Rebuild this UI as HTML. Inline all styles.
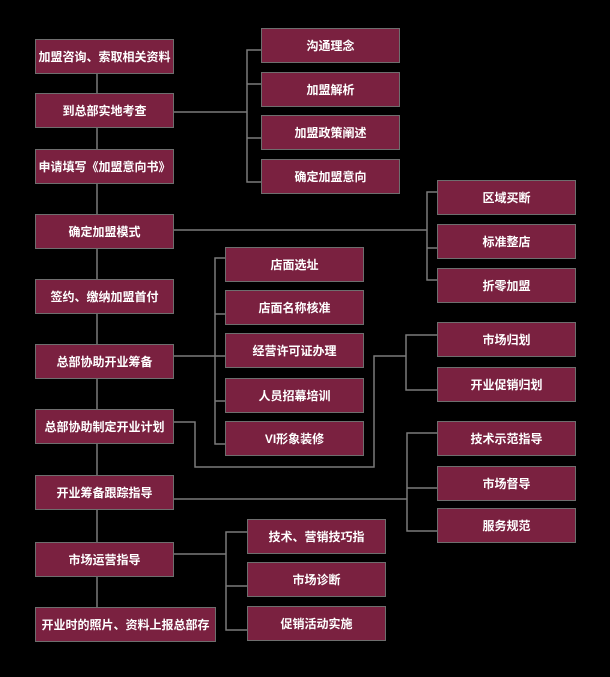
<!DOCTYPE html>
<html><head><meta charset="utf-8"><style>
html,body{margin:0;padding:0;background:#000;}
#c{position:relative;width:610px;height:677px;background:#000;overflow:hidden;}
.b{position:absolute;box-sizing:border-box;background:#7a2140;border:1px solid #6e6e6e;color:#fff;font:bold 12px "Liberation Sans","Noto Sans CJK SC",sans-serif;display:flex;align-items:center;justify-content:center;white-space:nowrap;}
svg{position:absolute;left:0;top:0;}
</style></head><body><div id="c">
<svg width="610" height="677"><g stroke="#7a7a7a" stroke-width="1.5" fill="none">
<path d="M97 73V607"/>
<path d="M173 112H247M261 50H247V182H261M247 84H261M247 138H261"/>
<path d="M173 230H427M437 192H427V280H437M427 248H437"/>
<path d="M173 356H225M225 258H215V444H225M215 314H225M215 401H225"/>
<path d="M173 422H195V467H374V356H406M437 335H406V390H437"/>
<path d="M173 499H407M437 433H407V531H437M407 488H437"/>
<path d="M173 554H226M247 532H226V630H247M226 586H247"/>
</g></svg>
<div class="b" style="left:35px;top:39px;width:139px;height:35px">加盟咨询、索取相关资料</div>
<div class="b" style="left:35px;top:93px;width:139px;height:35px">到总部实地考查</div>
<div class="b" style="left:35px;top:149px;width:139px;height:35px">申请填写《加盟意向书》</div>
<div class="b" style="left:35px;top:214px;width:139px;height:35px">确定加盟模式</div>
<div class="b" style="left:35px;top:279px;width:139px;height:35px">签约、缴纳加盟首付</div>
<div class="b" style="left:35px;top:344px;width:139px;height:35px">总部协助开业筹备</div>
<div class="b" style="left:35px;top:409px;width:139px;height:35px">总部协助制定开业计划</div>
<div class="b" style="left:35px;top:475px;width:139px;height:35px">开业筹备跟踪指导</div>
<div class="b" style="left:35px;top:542px;width:139px;height:35px">市场运营指导</div>
<div class="b" style="left:35px;top:607px;width:181px;height:35px">开业时的照片、资料上报总部存</div>

<div class="b" style="left:261px;top:28px;width:139px;height:35px">沟通理念</div>
<div class="b" style="left:261px;top:72px;width:139px;height:35px">加盟解析</div>
<div class="b" style="left:261px;top:115px;width:139px;height:35px">加盟政策阐述</div>
<div class="b" style="left:261px;top:159px;width:139px;height:35px">确定加盟意向</div>

<div class="b" style="left:437px;top:180px;width:139px;height:35px">区域买断</div>
<div class="b" style="left:437px;top:224px;width:139px;height:35px">标准整店</div>
<div class="b" style="left:437px;top:268px;width:139px;height:35px">折零加盟</div>

<div class="b" style="left:225px;top:247px;width:139px;height:35px">店面选址</div>
<div class="b" style="left:225px;top:290px;width:139px;height:35px">店面名称核准</div>
<div class="b" style="left:225px;top:333px;width:139px;height:35px">经营许可证办理</div>
<div class="b" style="left:225px;top:378px;width:139px;height:35px">人员招幕培训</div>
<div class="b" style="left:225px;top:421px;width:139px;height:35px">VI形象装修</div>

<div class="b" style="left:437px;top:322px;width:139px;height:35px">市场归划</div>
<div class="b" style="left:437px;top:367px;width:139px;height:35px">开业促销归划</div>

<div class="b" style="left:437px;top:421px;width:139px;height:35px">技术示范指导</div>
<div class="b" style="left:437px;top:466px;width:139px;height:35px">市场督导</div>
<div class="b" style="left:437px;top:508px;width:139px;height:35px">服务规范</div>

<div class="b" style="left:247px;top:519px;width:139px;height:35px">技术、营销技巧指</div>
<div class="b" style="left:247px;top:562px;width:139px;height:35px">市场诊断</div>
<div class="b" style="left:247px;top:606px;width:139px;height:35px">促销活动实施</div>
</div></body></html>
